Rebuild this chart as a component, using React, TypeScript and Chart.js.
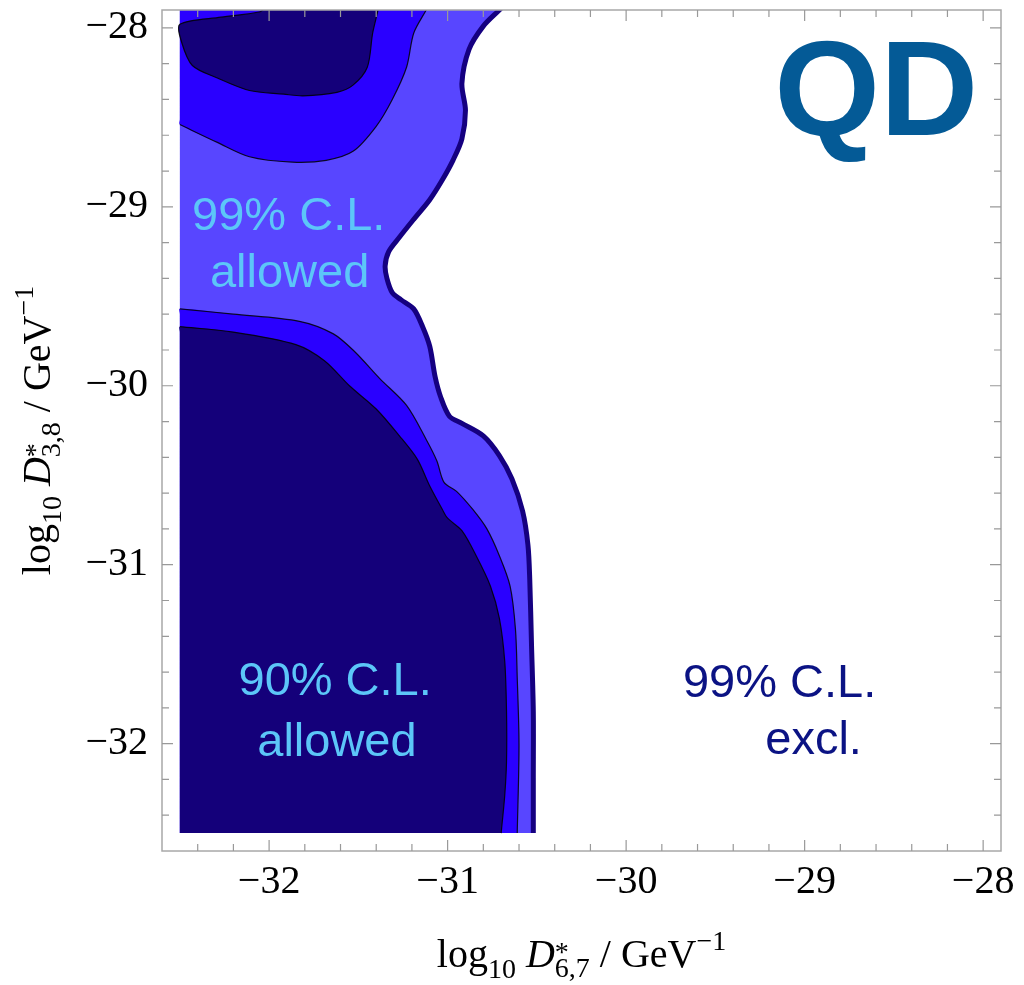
import React, { useEffect, useRef } from "react";
import { Chart, registerables } from "chart.js";

Chart.register(...registerables);

// ---- axes ----
const X_MIN = -32.6;
const X_MAX = -27.9;
const Y_MIN = -32.6;
const Y_MAX = -27.9;
const majorTickValues = [-32, -31, -30, -29, -28];
const minorTickStep = 0.2;

// ---- grid extent of the scan ----
const GRID_LEFT = -32.5;
const GRID_BOTTOM = -32.5;
const FILL_TOP = -27.8;
const EDGE_NEAR = 0.03;

// ---- 99% C.L. boundary (thick line) ----
const outerX = [-30.69, -30.71, -30.8, -30.88, -30.92, -30.9, -30.92, -30.97, -31.03, -31.1, -31.19, -31.27, -31.33, -31.35, -31.34, -31.31, -31.26, -31.19, -31.14, -31.1, -31.07, -31.04, -30.99, -30.92, -30.8, -30.71, -30.64, -30.58, -30.55, -30.54, -30.53, -30.52, -30.52, -30.52];
const outerY = [-27.88, -27.9, -27.99, -28.12, -28.31, -28.46, -28.62, -28.74, -28.85, -28.96, -29.07, -29.17, -29.25, -29.33, -29.4, -29.48, -29.52, -29.57, -29.67, -29.78, -29.95, -30.06, -30.17, -30.21, -30.28, -30.39, -30.52, -30.7, -30.89, -31.08, -31.45, -31.82, -32.19, -32.5];

// ---- lower island: 95% contour ----
const lowBlueX = [-32.5, -32.2, -31.83, -31.64, -31.52, -31.38, -31.23, -31.12, -31.06, -31.02, -30.95, -30.86, -30.78, -30.71, -30.65, -30.62, -30.61, -30.6, -30.61];
const lowBlueY = [-29.57, -29.6, -29.64, -29.71, -29.81, -29.96, -30.11, -30.3, -30.42, -30.54, -30.59, -30.69, -30.8, -30.95, -31.12, -31.36, -31.63, -32.01, -32.5];

// ---- lower island: 90% contour ----
const lowDarkX = [-32.5, -32.2, -31.85, -31.69, -31.55, -31.4, -31.27, -31.17, -31.1, -31.03, -31.0, -30.92, -30.84, -30.76, -30.71, -30.68, -30.67, -30.67, -30.68, -30.7];
const lowDarkY = [-29.67, -29.7, -29.77, -29.86, -30.0, -30.13, -30.28, -30.41, -30.56, -30.69, -30.74, -30.81, -30.95, -31.12, -31.3, -31.54, -31.82, -32.1, -32.29, -32.5];

// ---- upper island: 95% contour ----
const topBlueX = [-32.5, -32.29, -32.11, -31.87, -31.68, -31.53, -31.4, -31.31, -31.23, -31.19, -31.12, -31.11];
const topBlueY = [-28.54, -28.64, -28.72, -28.75, -28.74, -28.69, -28.55, -28.4, -28.22, -28.03, -27.9, -27.88];

// ---- upper island: 90% contour ----
const topDarkX = [-32.02, -32.05, -32.27, -32.5, -32.49, -32.43, -32.29, -32.11, -31.92, -31.81, -31.62, -31.53, -31.45, -31.42, -31.39, -31.39];
const topDarkY = [-27.88, -27.91, -27.94, -27.98, -28.08, -28.21, -28.28, -28.35, -28.37, -28.38, -28.36, -28.32, -28.22, -28.03, -27.9, -27.88];

// ---- annotations ----
const labelTexts = ["99% C.L.", "allowed", "90% C.L.", "allowed", "99% C.L.", "excl."];
const labelX = [-31.89, -31.885, -31.63, -31.62, -29.14, -28.95];
const labelY = [-29.13, -29.45, -31.73, -32.07, -31.74, -32.06];
const labelColors = ["#5cc6f8", "#5cc6f8", "#5cc6f8", "#5cc6f8", "#0b1384", "#0b1384"];
const tagText = "QD";
const tagX = -29.17;
const tagY = -28.6;

const COL_DARK = "#14007a";
const COL_BLUE = "#2a00ff";
const COL_LIGHT = "#5846ff";
const COL_EDGE = "#150080";
const COL_CONTOUR = "rgba(0,0,0,0.85)";
const SERIF = '"Liberation Serif", "Times New Roman", serif';
const SANS = '"Liberation Sans", Arial, sans-serif';

const pts = (xs: number[], ys: number[]) => xs.map((x, i) => ({ x, y: ys[i] }));

type Run = { t?: string; s?: number; dy?: number; it?: boolean; stack?: Run[] };

function fontFor(r: Run, base: number) {
  return `${r.it ? "italic " : ""}${Math.round(base * (r.s ?? 1))}px ${SERIF}`;
}
function runWidth(ctx: CanvasRenderingContext2D, r: Run, base: number): number {
  if (r.stack) return Math.max(...r.stack.map((q) => runWidth(ctx, q, base)));
  ctx.font = fontFor(r, base);
  return ctx.measureText(r.t ?? "").width;
}
function drawRich(ctx: CanvasRenderingContext2D, runs: Run[], cx: number, by: number, base: number) {
  const total = runs.reduce((a, r) => a + runWidth(ctx, r, base), 0);
  let x = cx - total / 2;
  ctx.textAlign = "left";
  ctx.textBaseline = "alphabetic";
  for (const r of runs) {
    const w = runWidth(ctx, r, base);
    const parts = r.stack ?? [r];
    for (const q of parts) {
      ctx.font = fontFor(q, base);
      ctx.fillText(q.t ?? "", x, by + (q.dy ?? 0) * base);
    }
    x += w;
  }
}
const titleRuns = (sub: string): Run[] => [
  { t: "log" },
  { t: "10", s: 0.7, dy: 0.28 },
  { t: " " },
  { t: "D", it: true },
  { stack: [{ t: "*", s: 0.7, dy: -0.15 }, { t: sub, s: 0.7, dy: 0.25 }] },
  { t: " / GeV" },
  { t: "\u22121", s: 0.7, dy: -0.42 },
];

const decorPlugin = {
  id: "decor",
  afterDraw(chart: any) {
    const { ctx, chartArea: a, scales } = chart;
    const xs = scales.x;
    const ys = scales.y;
    ctx.save();
    // in-plot labels
    ctx.textAlign = "center";
    ctx.textBaseline = "alphabetic";
    ctx.font = `47px ${SANS}`;
    labelTexts.forEach((t, i) => {
      ctx.fillStyle = labelColors[i];
      ctx.fillText(t, xs.getPixelForValue(labelX[i]), ys.getPixelForValue(labelY[i]));
    });
    ctx.textAlign = "left";
    ctx.font = `bold 136px ${SANS}`;
    ctx.fillStyle = "#045a96";
    ctx.fillText(tagText, xs.getPixelForValue(tagX), ys.getPixelForValue(tagY));

    // frame
    ctx.strokeStyle = "#a8a8a8";
    ctx.lineWidth = 1.5;
    ctx.strokeRect(a.left, a.top, a.right - a.left, a.bottom - a.top);
    // ticks (inward, all four sides)
    ctx.lineWidth = 1.2;
    ctx.strokeStyle = "#999";
    ctx.beginPath();
    const n0 = Math.ceil(X_MIN / minorTickStep + 1e-6);
    const n1 = Math.floor(X_MAX / minorTickStep - 1e-6);
    for (let n = n0; n <= n1; n++) {
      const v = n * minorTickStep;
      const major = Math.abs(v - Math.round(v)) < 1e-6;
      const len = major ? 11 : 7;
      const px = xs.getPixelForValue(v);
      ctx.moveTo(px, a.bottom);
      ctx.lineTo(px, a.bottom - len);
      ctx.moveTo(px, a.top);
      ctx.lineTo(px, a.top + len);
    }
    const m0 = Math.ceil(Y_MIN / minorTickStep + 1e-6);
    const m1 = Math.floor(Y_MAX / minorTickStep - 1e-6);
    for (let n = m0; n <= m1; n++) {
      const v = n * minorTickStep;
      const major = Math.abs(v - Math.round(v)) < 1e-6;
      const len = major ? 11 : 7;
      const py = ys.getPixelForValue(v);
      ctx.moveTo(a.left, py);
      ctx.lineTo(a.left + len, py);
      ctx.moveTo(a.right, py);
      ctx.lineTo(a.right - len, py);
    }
    ctx.stroke();

    // axis titles
    ctx.fillStyle = "#000";
    drawRich(ctx, titleRuns("6,7"), (a.left + a.right) / 2, 967, 40);
    ctx.save();
    ctx.translate(50, (a.top + a.bottom) / 2);
    ctx.rotate(-Math.PI / 2);
    drawRich(ctx, titleRuns("3,8"), 0, 0, 40);
    ctx.restore();
    ctx.restore();
  },
};

const fmt = (v: any) => (Number(v) < 0 ? "\u2212" : "") + Math.abs(Number(v)).toString();

export default function App() {
  const ref = useRef<HTMLCanvasElement>(null);
  useEffect(() => {
    const canvas = ref.current!;
    const lineBase = { showLine: true, pointRadius: 0, tension: 0.3, clip: 0 };
    const outer = pts(outerX, outerY);
    const lowDark = pts(lowDarkX, lowDarkY);
    const lowBlue = pts(lowBlueX, lowBlueY);
    const topBlue = pts(topBlueX, topBlueY);
    const topDark = pts(topDarkX, topDarkY);
    const noBorder = { borderWidth: 0, borderColor: "rgba(0,0,0,0)" };
    const chart = new Chart(canvas, {
      type: "scatter",
      data: {
        datasets: [
          { ...lineBase, data: outer, borderColor: COL_EDGE, borderWidth: 5, borderJoinStyle: "round", fill: false },
          { ...lineBase, data: lowDark, borderColor: COL_CONTOUR, borderWidth: 1.2, fill: false },
          { ...lineBase, data: lowBlue, borderColor: COL_CONTOUR, borderWidth: 1.2, fill: false },
          { ...lineBase, data: topDark, borderColor: COL_CONTOUR, borderWidth: 1.2, backgroundColor: COL_DARK, fill: "shape" },
          { ...lineBase, data: topBlue, borderColor: COL_CONTOUR, borderWidth: 1.2, fill: false },
          {
            ...lineBase, ...noBorder, backgroundColor: COL_DARK, fill: "shape",
            data: [{ x: GRID_LEFT, y: GRID_BOTTOM }, { x: GRID_LEFT, y: lowDarkY[0] - EDGE_NEAR }, ...lowDark],
          },
          {
            ...lineBase, ...noBorder, backgroundColor: COL_BLUE, fill: "shape",
            data: [{ x: GRID_LEFT, y: GRID_BOTTOM }, { x: GRID_LEFT, y: lowBlueY[0] - EDGE_NEAR }, ...lowBlue],
          },
          {
            ...lineBase, ...noBorder, backgroundColor: COL_BLUE, fill: "shape",
            data: [{ x: GRID_LEFT, y: FILL_TOP }, { x: GRID_LEFT, y: topBlueY[0] + EDGE_NEAR }, ...topBlue],
          },
          {
            ...lineBase, ...noBorder, backgroundColor: COL_LIGHT, fill: "shape",
            data: [{ x: GRID_LEFT, y: GRID_BOTTOM }, { x: GRID_LEFT, y: Y_MAX }, { x: GRID_LEFT, y: FILL_TOP }, ...outer],
          },
        ] as any,
      },
      options: {
        animation: false,
        responsive: false,
        devicePixelRatio: 1,
        events: [],
        layout: { padding: { top: 10, right: 23, left: 0, bottom: 0 } },
        plugins: { legend: { display: false }, tooltip: { enabled: false }, title: { display: false } },
        scales: {
          x: {
            type: "linear",
            min: X_MIN,
            max: X_MAX,
            grid: { display: false, drawTicks: false },
            border: { display: false },
            afterBuildTicks: (s: any) => {
              s.ticks = majorTickValues.map((v) => ({ value: v }));
            },
            afterFit: (s: any) => {
              s.height = 134;
              s.paddingLeft = 0;
              s.paddingRight = 0;
            },
            ticks: { autoSkip: false, maxRotation: 0, padding: 7, color: "#000", font: { family: SERIF, size: 40 }, callback: fmt },
          },
          y: {
            type: "linear",
            min: Y_MIN,
            max: Y_MAX,
            grid: { display: false, drawTicks: false },
            border: { display: false },
            afterBuildTicks: (s: any) => {
              s.ticks = majorTickValues.map((v) => ({ value: v }));
            },
            afterFit: (s: any) => {
              s.width = 162;
              s.paddingTop = 0;
              s.paddingBottom = 0;
            },
            ticks: { autoSkip: false, padding: 14, color: "#000", font: { family: SERIF, size: 40 }, callback: fmt },
          },
        },
      } as any,
      plugins: [decorPlugin],
    });
    return () => chart.destroy();
  }, []);
  return (
    <canvas
      ref={ref}
      width={1024}
      height={985}
      style={{ position: "absolute", left: 0, top: 0, width: 1024, height: 985 }}
    />
  );
}
